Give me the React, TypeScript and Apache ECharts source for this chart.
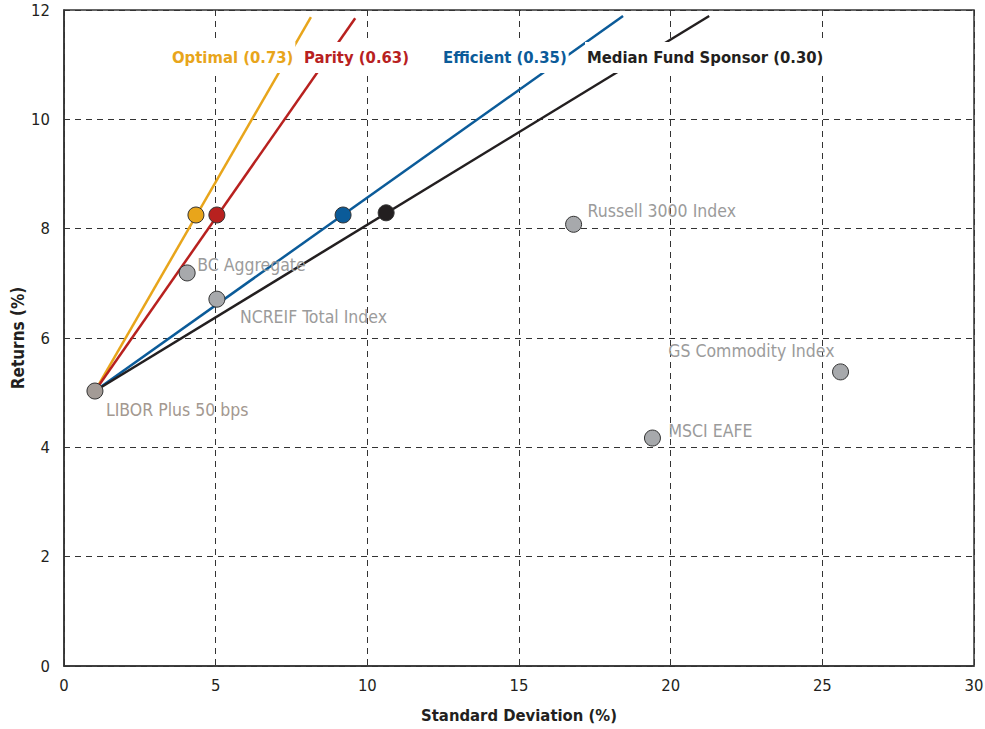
import React, { useEffect, useRef } from "react";
import * as echarts from "echarts";

const FONT = "'DejaVu Sans Condensed', 'Liberation Sans', sans-serif";

// risk-free anchor
const liborPoint = [1.02, 5.03];
const liborName = "LIBOR Plus 50 bps";

// portfolios (point on line) and line end points
const portfolioNames = ["Optimal (0.73)", "Parity (0.63)", "Efficient (0.35)", "Median Fund Sponsor (0.30)"];
const portfolioColors = ["#E8A51B", "#B8211F", "#0B5B99", "#231F20"];
const portfolioPoints = [
  [4.35, 8.25],
  [5.04, 8.25],
  [9.2, 8.25],
  [10.62, 8.29],
];
const lineEnds = [
  [8.14, 11.87],
  [9.6, 11.85],
  [18.43, 11.89],
  [21.27, 11.89],
];

// asset class points
const assetNames = ["BC Aggregate", "NCREIF Total Index", "Russell 3000 Index", "GS Commodity Index", "MSCI EAFE"];
const assetPoints = [
  [4.06, 7.19],
  [5.04, 6.71],
  [16.8, 8.08],
  [25.6, 5.38],
  [19.4, 4.17],
];

const xTicks = [0, 5, 10, 15, 20, 25, 30];
const yTicks = [0, 2, 4, 6, 8, 10, 12];

// label layout (pixel offsets / positions)
const assetLabelOffsets = [
  [10, -8, "left"],
  [23, 18, "left"],
  [14, -13, "left"],
  [-6, -21, "right"],
  [16, -7, "left"],
];
const topLabelX = [170, 302, 441, 585];

export default function App() {
  const ref = useRef<HTMLDivElement>(null);
  useEffect(() => {
    if (!ref.current) return;
    const chart = echarts.init(ref.current, null, { renderer: "svg" });
    const series: any[] = [];
    portfolioNames.forEach((n, i) => {
      series.push({
        type: "line",
        name: n + " line",
        data: [liborPoint, lineEnds[i]],
        symbol: "none",
        lineStyle: { color: portfolioColors[i], width: 2.5 },
        z: 2,
      });
    });
    series.push({
      type: "scatter",
      name: "assets",
      data: assetPoints.map((p, i) => ({
        value: p,
        name: assetNames[i],
        label: {
          show: true,
          position: "inside",
          align: assetLabelOffsets[i][2] as string,
          verticalAlign: "middle",
          offset: [assetLabelOffsets[i][0], assetLabelOffsets[i][1]],
          formatter: assetNames[i],
          color: "#9B9B9B",
          fontSize: 17.5,
          fontFamily: FONT,
        },
      })),
      symbolSize: 16,
      itemStyle: { color: "#A7A9AC", borderColor: "#333", borderWidth: 1, opacity: 1 },
      z: 4,
    });
    series.push({
      type: "scatter",
      name: "libor",
      data: [
        {
          value: liborPoint,
          label: {
            show: true,
            position: "inside",
            align: "left",
            verticalAlign: "middle",
            offset: [11, 19],
            formatter: liborName,
            color: "#A39890",
            fontSize: 17.5,
            fontFamily: FONT,
          },
        },
      ],
      symbolSize: 16,
      itemStyle: { color: "#A39B96", borderColor: "#333", borderWidth: 1, opacity: 1 },
      z: 4,
    });
    series.push({
      type: "scatter",
      name: "portfolios",
      data: portfolioPoints.map((p, i) => ({ value: p, itemStyle: { color: portfolioColors[i] } })),
      symbolSize: 16,
      itemStyle: { borderColor: "#333", borderWidth: 1, opacity: 1 },
      z: 5,
    });

    chart.setOption({
      animation: false,
      grid: {
        left: 64,
        right: 11,
        top: 10,
        bottom: 63,
        outerBoundsMode: "none",
        containLabel: false,
        show: true,
        borderColor: "#333",
        borderWidth: 1.5,
        backgroundColor: "#fff",
      },
      xAxis: {
        type: "value",
        min: xTicks[0],
        max: xTicks[xTicks.length - 1],
        interval: 5,
        name: "Standard Deviation (%)",
        nameLocation: "middle",
        nameGap: 41,
        nameTextStyle: { fontSize: 16.5, fontWeight: "bold", color: "#231F20", fontFamily: FONT },
        axisLine: { show: true, lineStyle: { color: "#333", width: 1.5 } },
        axisTick: { show: false },
        axisLabel: { fontSize: 16.5, color: "#231F20", margin: 11, fontFamily: FONT },
        splitLine: { show: true, lineStyle: { color: "#333", type: [6, 5], width: 1 } },
      },
      yAxis: {
        type: "value",
        min: yTicks[0],
        max: yTicks[yTicks.length - 1],
        interval: 2,
        name: "Returns (%)",
        nameLocation: "middle",
        nameGap: 38,
        nameMoveOverlap: false,
        nameTextStyle: { fontSize: 17, fontWeight: "bold", color: "#231F20", fontFamily: FONT },
        axisLine: { show: true, lineStyle: { color: "#333", width: 1.5 } },
        axisTick: { show: false },
        axisLabel: { fontSize: 16.5, color: "#231F20", margin: 14, fontFamily: FONT },
        splitLine: { show: true, lineStyle: { color: "#333", type: [6, 5], width: 1 } },
      },
      graphic: portfolioNames.map((n, i) => ({
        type: "text",
        left: topLabelX[i],
        top: 42,
        z: 100,
        style: {
          text: n,
          fill: portfolioColors[i],
          fontSize: 16.5,
          fontWeight: "bold",
          fontFamily: FONT,
          backgroundColor: "#fff",
          padding: [7, 2],
        },
      })),
      series,
    });
    return () => chart.dispose();
  }, []);
  return <div ref={ref} style={{ width: 985, height: 729, position: "absolute", left: 0, top: 0 }} />;
}
